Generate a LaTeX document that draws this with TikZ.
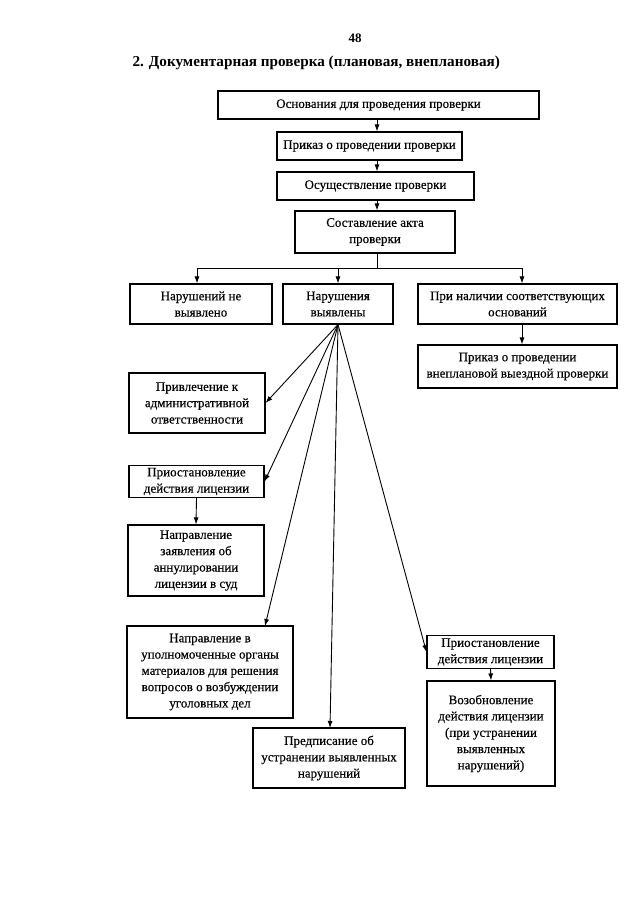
\documentclass[tikz,border=0pt]{standalone}
\usepackage{fontspec}
\setmainfont{Liberation Serif}
\newfontfamily\boxfont[FakeBold=0.35]{Liberation Serif}
\usetikzlibrary{arrows.meta}
\begin{document}
\begin{tikzpicture}[x=1pt,y=-1pt,
  bx/.style={draw, line width=1.1pt, align=center, inner sep=0pt, font=\boxfont\fontsize{13}{16.3}\selectfont},
  arr/.style={line width=0.9pt, -{Latex[length=7pt,width=5pt]}},
  ln/.style={line width=0.9pt}]
\useasboundingbox (0,0) rectangle (640,905);
\fill[white] (0,0) rectangle (640,905);
\node[font=\bfseries\fontsize{13}{15}\selectfont] (pg) at (355,38) {48};
\node[font=\bfseries\fontsize{15.2}{18}\selectfont, anchor=west] (title) at (129,63) {2. Документарная проверка (плановая, внеплановая)};

\node[bx, minimum width=321, minimum height=28] (b1) at (378.5,105) {Основания для проведения проверки};
\node[bx, minimum width=185, minimum height=28] (b2) at (369.5,146) {Приказ о проведении проверки};
\node[bx, minimum width=197, minimum height=28] (b3) at (375.5,186) {Осуществление проверки};
\node[bx, minimum width=160, minimum height=42] (b4) at (375,232) {Составление акта\\проверки};

\node[bx, minimum width=142, minimum height=40] (A) at (201,304) {Нарушений не\\выявлено};
\node[bx, minimum width=110, minimum height=40] (B) at (338,304) {Нарушения\\выявлены};
\node[bx, minimum width=199, minimum height=40] (C) at (517.5,304) {При наличии соответствующих\\оснований};
\node[bx, minimum width=199, minimum height=43] (D) at (517.5,366.5) {Приказ о проведении\\внеплановой выездной проверки};

\node[bx, minimum width=136, minimum height=60] (E) at (197,403) {Привлечение к\\административной\\ответственности};
\node[bx, minimum width=135, minimum height=32] (F) at (196.5,481.5) {Приостановление\\действия лицензии};
\node[bx, minimum width=136, minimum height=71] (G) at (196,560.5) {Направление\\заявления об\\аннулировании\\лицензии в суд};
\node[bx, minimum width=166, minimum height=92] (H) at (210,672) {Направление в\\уполномоченные органы\\материалов для решения\\вопросов о возбуждении\\уголовных дел};
\node[bx, minimum width=152, minimum height=60] (I) at (329,758) {Предписание об\\устранении выявленных\\нарушений};
\node[bx, minimum width=127, minimum height=33] (J) at (490.5,652) {Приостановление\\действия лицензии};
\node[bx, minimum width=128, minimum height=105] (K) at (491,733.5) {Возобновление\\действия лицензии\\(при устранении\\выявленных\\нарушений)};

\coordinate (ax) at (377,0);
\draw[arr] (b1.south -| ax) -- (b2.north -| ax);
\draw[arr] (b2.south -| ax) -- (b3.north -| ax);
\draw[arr] (b3.south -| ax) -- (b4.north -| ax);

\coordinate (hy) at (0,268);
\coordinate (hl) at (197,268);
\coordinate (hr) at (522,268);
\draw[ln] (b4.south -| ax) -- (hy -| ax);
\draw[ln] (hl) -- (hr);
\draw[arr] (hl) -- (hl |- A.north);
\draw[arr] (hy -| B.north) -- (B.north);
\draw[arr] (hr) -- (hr |- C.north);
\draw[arr] (C.south -| hr) -- (D.north -| hr);

\draw[arr] (F.south) -- (G.north);
\draw[arr] (J.south) -- (K.north);

\coordinate (fan) at (B.south);
\draw[arr] (fan) -- (E.east);
\draw[arr] (fan) -- (F.east);
\draw[arr] (fan) -- (265,626);
\draw[arr] (fan) -- (330,728);
\draw[arr] (fan) -- (J.west);
\end{tikzpicture}
\end{document}
